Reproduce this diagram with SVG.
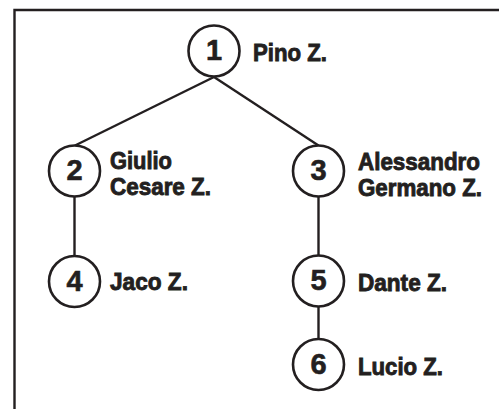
<svg xmlns="http://www.w3.org/2000/svg" width="499" height="409" viewBox="0 0 499 409">
<style>
.frame{fill:none;stroke:#231f20;stroke-width:2.4}
.edge{fill:none;stroke:#231f20;stroke-width:2.4}
.node circle{fill:#fff;stroke:#231f20;stroke-width:2.6}
.num{font-family:"Liberation Sans",Arial,sans-serif;font-weight:bold;font-size:29px;fill:#231f20;stroke:#231f20;stroke-width:0.6;text-anchor:middle}
.lbl{font-family:"Liberation Sans",Arial,sans-serif;font-weight:bold;font-size:24.5px;fill:#231f20;stroke:#231f20;stroke-width:0.9}
</style>
<rect width="499" height="409" fill="#fff"/>
<path class="frame" d="M14.5,409 V10 H499"/>
<g id="connectors">
<line class="edge" x1="214" y1="77" x2="75" y2="145.5"/>
<line class="edge" x1="214" y1="77" x2="318.5" y2="145.5"/>
<line class="edge" x1="74.5" y1="197" x2="74.5" y2="256"/>
<line class="edge" x1="318.5" y1="197" x2="318.5" y2="256"/>
<line class="edge" x1="318.5" y1="306" x2="318.5" y2="339"/>
</g>
<g id="node1" class="node">
<circle cx="214" cy="51" r="25.5"/>
<text class="num" x="214" y="59.5">1</text>
<text class="lbl" x="253" y="61" textLength="74" lengthAdjust="spacingAndGlyphs">Pino Z.</text>
</g>
<g id="node2" class="node">
<circle cx="74.5" cy="171" r="25.5"/>
<text class="num" x="74.5" y="180">2</text>
<text class="lbl" x="110" y="169" textLength="62" lengthAdjust="spacingAndGlyphs">Giulio</text>
<text class="lbl" x="110" y="195" textLength="101" lengthAdjust="spacingAndGlyphs">Cesare Z.</text>
</g>
<g id="node3" class="node">
<circle cx="318.5" cy="171" r="25.5"/>
<text class="num" x="318.5" y="180">3</text>
<text class="lbl" x="358" y="170" textLength="122" lengthAdjust="spacingAndGlyphs">Alessandro</text>
<text class="lbl" x="358" y="196" textLength="124" lengthAdjust="spacingAndGlyphs">Germano Z.</text>
</g>
<g id="node4" class="node">
<circle cx="74.5" cy="281.5" r="25.5"/>
<text class="num" x="74.5" y="290.5">4</text>
<text class="lbl" x="110" y="290" textLength="78" lengthAdjust="spacingAndGlyphs">Jaco Z.</text>
</g>
<g id="node5" class="node">
<circle cx="318.5" cy="281" r="25.5"/>
<text class="num" x="318.5" y="290">5</text>
<text class="lbl" x="358" y="291" textLength="89" lengthAdjust="spacingAndGlyphs">Dante Z.</text>
</g>
<g id="node6" class="node">
<circle cx="318.5" cy="364.5" r="25.5"/>
<text class="num" x="318.5" y="373.5">6</text>
<text class="lbl" x="358" y="375" textLength="85" lengthAdjust="spacingAndGlyphs">Lucio Z.</text>
</g>
</svg>
